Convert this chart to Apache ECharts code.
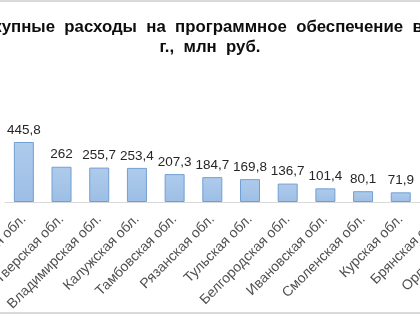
<!DOCTYPE html>
<html>
<head>
<meta charset="utf-8">
<script src="https://cdn.jsdelivr.net/npm/echarts@6/dist/echarts.min.js"></script>
<style>
html,body{margin:0;padding:0;background:#fff;}
#c{width:420px;height:315px;}
</style>
</head>
<body>
<div id="c"></div>
<script>
var titleText = 'Совокупные  расходы  на  программное  обеспечение  в  2021\nг.,  млн  руб.';
var categories = ['Московская обл.', 'Тверская обл.', 'Владимирская обл.', 'Калужская обл.', 'Тамбовская обл.', 'Рязанская обл.', 'Тульская обл.', 'Белгородская обл.', 'Ивановская обл.', 'Смоленская обл.', 'Курская обл.', 'Брянская обл.', 'Орловская обл.'];
var values = [445.8, 262, 255.7, 253.4, 207.3, 184.7, 169.8, 136.7, 101.4, 80.1, 71.9, 62.5, 55.0];

var chart = echarts.init(document.getElementById('c'), null, {renderer: 'canvas'});
chart.setOption({
  animation: false,
  backgroundColor: '#ffffff',
  title: {
    text: titleText,
    left: 'center',
    top: 12,
    textStyle: {
      fontFamily: 'Liberation Sans',
      fontWeight: 'bold',
      fontSize: 16.8,
      lineHeight: 20,
      color: '#0d0d0d'
    }
  },
  graphic: [
    {type: 'rect', shape: {x: 0, y: 0, width: 420, height: 2}, style: {fill: '#d9d9d9'}},
    {type: 'rect', shape: {x: 0, y: 312, width: 420, height: 2}, style: {fill: '#d9d9d9'}}
  ],
  grid: {left: 5, width: 490, top: 134.7, height: 67.3, containLabel: false, outerBoundsMode: 'none'},
  xAxis: {
    type: 'category',
    data: categories,
    axisLine: {show: true, lineStyle: {color: '#d9d9d9', width: 1}},
    axisTick: {show: false},
    axisLabel: {
      interval: 0,
      rotate: 45,
      margin: 15,
      fontFamily: 'Liberation Sans',
      fontSize: 14,
      color: '#505050'
    }
  },
  yAxis: {
    type: 'value',
    min: 0,
    max: 500,
    show: false,
    splitLine: {show: false}
  },
  series: [{
    type: 'bar',
    data: values,
    barWidth: 20,
    itemStyle: {
      color: new echarts.graphic.LinearGradient(0, 0, 0, 1, [
        {offset: 0, color: '#aecbec'},
        {offset: 1, color: '#9dbee5'}
      ]),
      borderColor: '#729fd3',
      borderWidth: 1
    },
    label: {
      show: true,
      position: 'top',
      distance: 5,
      fontFamily: 'Liberation Sans',
      fontSize: 13.5,
      color: '#262626',
      formatter: function (p) { return String(p.value).replace('.', ','); }
    }
  }]
});
</script>
</body>
</html>
